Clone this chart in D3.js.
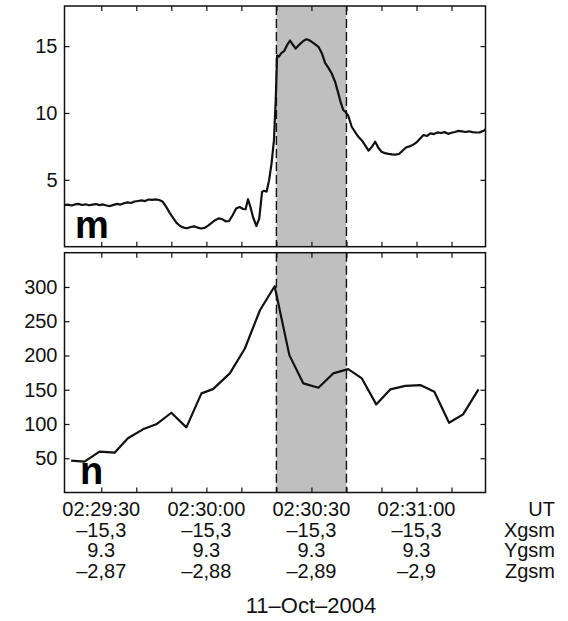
<!DOCTYPE html>
<html>
<head>
<meta charset="utf-8">
<script src="https://cdn.jsdelivr.net/npm/d3@7"></script>
<style>
  body { margin: 0; background: #fff; }
  svg { display: block; }
  text { font-family: "Liberation Sans", Arial, Helvetica, sans-serif; fill: #111; }
</style>
</head>
<body>
<svg id="chart" width="568" height="621"></svg>
<script>
// Time is given in seconds after 02:29:00 UT, 11 Oct 2004.

// |B| (panel m), nT
const bTimes = [19.5, 20.5, 21.5, 22.5, 23.5, 24.5, 25.5, 26.5, 27.5, 28.5, 29.5, 30.5, 31.5, 32.5, 33.5,
  34.5, 35.5, 36.5, 37.5, 38.5, 39.5, 40.5, 41.5, 42.5, 43.5, 44.5, 45.5, 46.5, 47.5, 48.5, 49.5, 50.5,
  51.5, 52.5, 53.5, 54.5, 55.5, 56.5, 57.5, 58.5, 59.5, 60.5, 61.5, 62.5, 63.5, 64.5, 65.5, 66.5, 67.5,
  68.5, 69.5, 70.5, 71.2, 71.9, 72.6, 73.4, 74.3, 75.1, 75.9, 76.5, 77.2, 77.9, 78.6, 79.3, 79.8, 80.2,
  80.7, 81.4, 82.2, 83.0, 83.9, 84.7, 85.5, 86.3, 87.0, 87.8, 88.6, 89.4, 90.1, 91.0, 92.0, 93.0, 93.9,
  94.9, 95.8, 96.8, 97.7, 98.4, 99.1, 99.8, 100.5, 101.5, 102.4, 103.4, 104.4, 105.3, 106.3, 107.2,
  108.2, 109.1, 110.1, 111.0, 112.0, 113.0, 114.0, 115.0, 116.0, 117.0, 118.0, 119.0, 120.0, 121.0,
  122.0, 123.0, 124.0, 125.0, 126.0, 127.0, 128.0, 129.0, 130.0, 131.0, 132.0, 133.0, 134.0, 135.0,
  136.0, 137.0, 138.0, 139.0, 139.7];
const bValues = [3.12, 3.15, 3.08, 3.16, 3.20, 3.12, 3.17, 3.10, 3.15, 3.19, 3.11, 3.16, 3.08, 3.04, 3.13,
  3.20, 3.15, 3.25, 3.31, 3.27, 3.38, 3.42, 3.46, 3.41, 3.53, 3.50, 3.54, 3.49, 3.38, 3.00, 2.55, 2.15,
  1.78, 1.55, 1.43, 1.38, 1.47, 1.52, 1.43, 1.36, 1.41, 1.58, 1.78, 1.98, 2.12, 2.06, 1.90, 1.92, 2.35,
  2.85, 2.97, 2.82, 2.80, 3.55, 2.95, 2.15, 1.55, 2.10, 4.10, 4.18, 4.12, 4.95, 6.20, 7.95, 10.95, 14.30,
  14.22, 14.48, 14.62, 15.05, 15.42, 15.10, 14.82, 15.05, 15.22, 15.40, 15.52, 15.44, 15.32, 15.15, 14.95,
  14.45, 13.75, 13.35, 12.95, 12.30, 11.45, 10.75, 10.22, 10.05, 9.80, 8.97, 8.60, 8.22, 7.95, 7.60, 7.18,
  7.45, 7.85, 7.40, 7.08, 7.00, 6.94, 6.90, 6.88, 6.93, 7.18, 7.42, 7.50, 7.62, 7.80, 8.08, 8.35, 8.28,
  8.48, 8.42, 8.55, 8.50, 8.57, 8.44, 8.52, 8.58, 8.66, 8.62, 8.58, 8.63, 8.57, 8.54, 8.55, 8.65, 8.78];

// Density (panel n)
const nTimes = [21.4, 25.2, 29.5, 33.8, 37.6, 41.9, 45.7, 50.0, 54.3, 58.6, 61.9, 66.7, 71.0, 75.3, 79.5,
  83.7, 87.7, 92.0, 96.2, 100.5, 104.4, 108.5, 112.5, 116.8, 121.1, 125.1, 129.3, 133.3, 137.7];
const nValues = [46.5, 45, 59.6, 58.1, 79.1, 92.2, 99.5, 116.4, 95.1, 144.7, 150.9, 173.8, 210.2, 266, 301,
  200.5, 159.2, 152.8, 173.8, 180, 166.5, 128.6, 150.5, 155.7, 156.8, 147, 101.8, 114, 150.5];

// Axis extent, highlighted interval and ticks
const timeExtent = [19.5, 139.7];
const shadeInterval = [80, 100];
const minorTickSeconds = [30, 40, 50, 60, 70, 80, 90, 100, 110, 120, 130];
const labelSeconds = [30, 60, 90, 120];
const bTicks = [5, 10, 15];
const nTicks = [50, 100, 150, 200, 250, 300];

// Tick label rows under the time axis
const rowNames = ["UT", "Xgsm", "Ygsm", "Zgsm"];
const utLabels = ["02:29:30", "02:30:00", "02:30:30", "02:31:00"];
const xgsmLabels = ["\u201315,3", "\u201315,3", "\u201315,3", "\u201315,3"];
const ygsmLabels = ["9.3", "9.3", "9.3", "9.3"];
const zgsmLabels = ["\u20132,87", "\u20132,88", "\u20132,89", "\u20132,9"];
const dateLabel = "11\u2013Oct\u20132004";

const t0 = Date.UTC(2004, 9, 11, 2, 29, 0);
const toDate = s => new Date(t0 + s * 1000);

const svg = d3.select("#chart");
const left = 64.5, right = 485.5;
const x = d3.scaleUtc().domain(timeExtent.map(toDate)).range([left, right]);

const panels = [
  { id: "m", top: 6, bottom: 246.7, domain: [0, 18], ticks: bTicks, times: bTimes, values: bValues,
    letter: "m", letterX: 75, width: 2.2 },
  { id: "n", top: 252.7, bottom: 492.5, domain: [0, 350], ticks: nTicks, times: nTimes, values: nValues,
    letter: "n", letterX: 80, width: 2.2 }
];

const tickLen = 5;

panels.forEach(p => {
  const y = d3.scaleLinear().domain(p.domain).range([p.bottom, p.top]);
  const g = svg.append("g");

  g.append("clipPath").attr("id", "clip-" + p.id)
    .append("rect").attr("x", left).attr("y", p.top)
    .attr("width", right - left).attr("height", p.bottom - p.top);

  // highlighted interval
  g.append("rect")
    .attr("x", x(toDate(shadeInterval[0])))
    .attr("y", p.top)
    .attr("width", x(toDate(shadeInterval[1])) - x(toDate(shadeInterval[0])))
    .attr("height", p.bottom - p.top)
    .attr("fill", "#bfbfbf");

  g.selectAll("line.edge").data(shadeInterval).join("line")
    .attr("class", "edge")
    .attr("x1", d => x(toDate(d))).attr("x2", d => x(toDate(d)))
    .attr("y1", p.top).attr("y2", p.bottom)
    .attr("stroke", "#111").attr("stroke-width", 1.4)
    .attr("stroke-dasharray", "9,4");

  // data trace
  const pts = p.times.map((t, i) => [toDate(t), p.values[i]]);
  g.append("path")
    .datum(pts)
    .attr("clip-path", `url(#clip-${p.id})`)
    .attr("fill", "none")
    .attr("stroke", "#111")
    .attr("stroke-width", p.width)
    .attr("stroke-linejoin", "round")
    .attr("d", d3.line().x(d => x(d[0])).y(d => y(d[1])));

  // panel letter
  g.append("text")
    .attr("x", p.letterX).attr("y", p.bottom - 8.5)
    .attr("font-size", 38).attr("font-weight", "bold")
    .style("fill", "#000")
    .text(p.letter);

  // inward ticks on all four sides
  const tickDates = minorTickSeconds.map(toDate);
  g.append("g").attr("transform", `translate(0,${p.bottom})`)
    .call(d3.axisBottom(x).tickValues(tickDates).tickFormat("").tickSize(-tickLen).tickSizeOuter(0));
  g.append("g").attr("transform", `translate(0,${p.top})`)
    .call(d3.axisTop(x).tickValues(tickDates).tickFormat("").tickSize(-tickLen).tickSizeOuter(0));
  g.append("g").attr("transform", `translate(${left},0)`)
    .call(d3.axisLeft(y).tickValues(p.ticks).tickSize(-tickLen).tickSizeOuter(0).tickPadding(7))
    .call(a => a.selectAll("text").attr("font-size", 20).attr("fill", "#111")
      .style("font-family", '"Liberation Sans", Arial, sans-serif'));
  g.append("g").attr("transform", `translate(${right},0)`)
    .call(d3.axisRight(y).tickValues(p.ticks).tickFormat("").tickSize(-tickLen).tickSizeOuter(0));

  g.selectAll(".domain").remove();
  g.selectAll(".tick line").attr("stroke", "#111").attr("stroke-width", 1.2);

  // frame
  g.append("rect")
    .attr("x", left).attr("y", p.top)
    .attr("width", right - left).attr("height", p.bottom - p.top)
    .attr("fill", "none").attr("stroke", "#111").attr("stroke-width", 1.5);
});

// label rows below the lower panel
const rows = [utLabels, xgsmLabels, ygsmLabels, zgsmLabels];
const rowBase = 516, rowStep = 20.6;
rows.forEach((labels, r) => {
  svg.append("g").selectAll("text").data(labels).join("text")
    .attr("x", (d, i) => x(toDate(labelSeconds[i])))
    .attr("y", rowBase + r * rowStep)
    .attr("text-anchor", "middle")
    .attr("font-size", 20)
    .text(d => d);
  svg.append("text")
    .attr("x", 555)
    .attr("y", rowBase + r * rowStep)
    .attr("text-anchor", "end")
    .attr("font-size", 20)
    .text(rowNames[r]);
});

svg.append("text")
  .attr("x", 311).attr("y", 613)
  .attr("text-anchor", "middle")
  .attr("font-size", 22)
  .text(dateLabel);
</script>
</body>
</html>
